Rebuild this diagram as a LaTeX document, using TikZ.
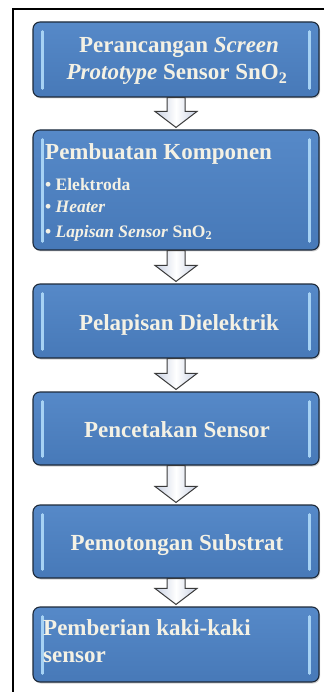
\documentclass[tikz,border=0pt]{standalone}
\usepackage{fontspec}
\setmainfont{Liberation Serif}
\usetikzlibrary{calc,shadows}
\definecolor{boxblue}{HTML}{4779B8}
\definecolor{boxtop}{HTML}{5689C8}
\definecolor{boxedge}{HTML}{1E2A3A}
\definecolor{barblue}{HTML}{A6D2F4}
\definecolor{txt}{HTML}{F4F1E4}
\definecolor{arrfill}{HTML}{C8D0E2}
\definecolor{arredge}{HTML}{3A3A3A}
\tikzset{
  stepbox/.style={rectangle, rounded corners=7pt, draw=boxedge, line width=1.1pt,
    top color=boxtop, bottom color=boxblue, minimum width=286pt, inner sep=0pt,
    drop shadow={shadow xshift=1pt, shadow yshift=-1.5pt, opacity=0.35}},
  hibar/.style={draw=barblue, line width=2.6pt, line cap=round},
  big/.style={text=txt, font=\bfseries\fontsize{23}{27}\selectfont, inner sep=0pt},
  small/.style={text=txt, font=\bfseries\fontsize{17.5}{20}\selectfont, inner sep=0pt},
  blockarrow/.style={draw=arredge, line width=1pt, left color=arrfill, right color=arrfill, middle color=white, line join=miter},
  frame/.style={draw=black, line width=1.3pt}
}
\newcommand{\stepbars}[1]{%
  \draw[hibar] ($(#1.north west)+(10,10)$) -- ($(#1.south west)+(10,-9)$);
  \draw[hibar] ($(#1.north east)+(-10,10)$) -- ($(#1.south east)+(-10,-9)$);}
\newcommand{\steparrow}[2]{%
  \path[blockarrow] ($(#1.south)+(-9,0)$) -- ($(#1.south)+(9,0)$) -- ($(#2.north)+(9,-18)$)
    -- ($(#2.north)+(21,-18)$) -- ($(#2.north)+(0,-2)$) -- ($(#2.north)+(-21,-18)$)
    -- ($(#2.north)+(-9,-18)$) -- cycle;}
\begin{document}
\begin{tikzpicture}[x=1pt,y=-1pt]
\useasboundingbox (0,0) rectangle (324,692);
\fill[white] (0,0) rectangle (324,692);
\coordinate (fr) at (324,9);
\coordinate (fl) at (13,692);
\draw[frame] (fr) -- (13,9) -- (fl);

\node[stepbox, minimum height=75pt] (b1) at (176,59.5) {};
\node[stepbox, minimum height=120pt] (b2) at (176,190) {};
\node[stepbox, minimum height=74pt] (b3) at (176,321) {};
\node[stepbox, minimum height=73pt] (b4) at (176,428.5) {};
\node[stepbox, minimum height=73pt] (b5) at (176,541.5) {};
\node[stepbox, minimum height=75pt] (b6) at (176,644.5) {};

\foreach \b in {b1,b2,b3,b4,b5,b6} {\stepbars{\b}}

\steparrow{b1}{b2}
\steparrow{b2}{b3}
\steparrow{b3}{b4}
\steparrow{b4}{b5}
\steparrow{b5}{b6}

\node[big, anchor=base] (t1a) at (179,53) {Perancangan \textit{Screen}};
\node[big, anchor=base] (t1b) at (177,80) {\textit{Prototype} Sensor SnO\textsubscript{2}};

\node[big, anchor=base west] (t2) at (45,160) {Pembuatan Komponen};
\node[small, anchor=base west] (t2a) at (45,191) {• Elektroda};
\node[small, anchor=base west] (t2b) at (45,213) {• \textit{Heater}};
\node[small, anchor=base west] (t2c) at (45,237) {• \textit{Lapisan Sensor} SnO\textsubscript{2}};

\node[big, anchor=base] (t3) at (179,330) {Pelapisan Dielektrik};
\node[big, anchor=base] (t4) at (177,437) {Pencetakan Sensor};
\node[big, anchor=base] (t5) at (177,550) {Pemotongan Substrat};

\node[big, anchor=base west] (t6a) at (43,635) {Pemberian kaki-kaki};
\node[big, anchor=base west] (t6b) at (43,662) {sensor};
\end{tikzpicture}
\end{document}
